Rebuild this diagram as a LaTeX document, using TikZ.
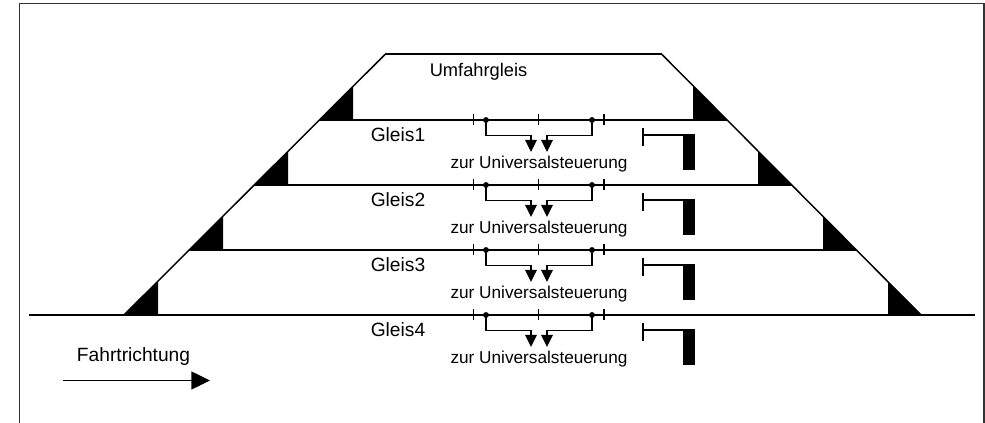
\documentclass[tikz,border=0pt]{standalone}
\usepackage{fontspec}
\setmainfont{Liberation Sans}
\usetikzlibrary{arrows.meta}
\tikzset{
 track/.style={line width=1.5pt,line cap=butt},
 thin track/.style={line width=1.1pt},
 lbl/.style={font=\fontsize{14.4}{17}\selectfont,inner sep=0pt},
 small lbl/.style={font=\fontsize{12.9}{15}\selectfont,inner sep=0pt},
 tap/.style={line width=1.4pt,-{Triangle[length=9pt,width=8.5pt]}},
 mark line/.style={line width=1.2pt},
}
\begin{document}
\begin{tikzpicture}[x=0.75pt,y=-0.75pt]
\useasboundingbox (0,0) rectangle (985,423);
\fill[white] (0,0) rectangle (985,423);
\draw[line width=0.9pt,black!80] (19.5,423) -- (19.5,3.5) -- (984,3.5) -- (984,423);
\coordinate (tl) at (385,54.5);
\coordinate (tr) at (662,54.5);
\coordinate (bl) at (124,315);
\coordinate (br) at (921,315);
\draw[track] (tl) -- (tr);
\draw[thin track] (tl) -- (bl);
\draw[thin track] (tr) -- (br);
\draw[track] (319,120) -- (727,120);
\draw[track] (254,185) -- (792,185);
\draw[track] (189,250) -- (857,250);
\draw[track] (29,315) -- (975,315);
\foreach \x/\y in {353/120,288/185,223/250,158/315}{
  \fill (\x,\y) -- (\x,\y-33.5) -- (\x-33.5,\y) -- cycle;
}
\foreach \x/\y in {693/120,758/185,823/250,888/315}{
  \fill (\x,\y) -- (\x,\y-33.5) -- (\x+33.5,\y) -- cycle;
}
\node[font=\fontsize{13.7}{17}\selectfont,inner sep=0pt,anchor=base] (umf) at (478.5,76.5) {Umfahrgleis};
\foreach \y/\n [count=\i] in {120/1,185/2,250/3,315/4}{
  \begin{scope}[shift={(0,\y)}]
  \node[lbl,anchor=base] (g\i) at (398,22) {Gleis\n};
  \draw[mark line] (473.5,-5.5) -- (473.5,5.5) (538.5,-5.5) -- (538.5,5.5) (604,-5.5) -- (604,5.5);
  \fill (486,0) circle (2.2pt) (592,0) circle (2.2pt);
  \draw[tap] (486,0) -- (486,15.5) -- (531,15.5) -- (531,32);
  \draw[tap] (592,0) -- (592,15.5) -- (547,15.5) -- (547,32);
  \node[small lbl,anchor=base] (u\i) at (539,48.5) {zur Universalsteuerung};
  \draw[mark line] (643,8) -- (643,26);
  \draw[mark line] (643,15) -- (683,15);
  \fill (683,14) rectangle (695,50);
  \end{scope}
}
\node[lbl,anchor=base] (fahrt) at (133.5,362) {Fahrtrichtung};
\coordinate (a1) at (62.5,380.5);
\coordinate (a2) at (210,380.5);
\draw[line width=1pt,-{Triangle[length=14pt,width=13.5pt]}] (a1) -- (a2);
\end{tikzpicture}
\end{document}
